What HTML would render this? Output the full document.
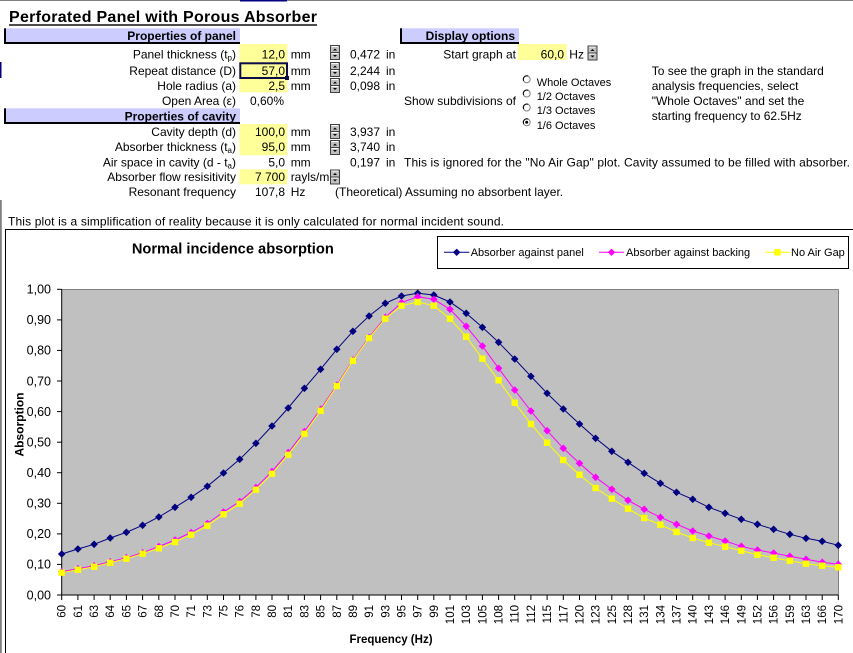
<!DOCTYPE html>
<html><head><meta charset="utf-8"><style>
html,body{margin:0;padding:0;background:#fff;width:853px;height:653px;overflow:hidden}
svg{display:block}
text{font-family:"Liberation Sans",Arial,sans-serif;fill:#000}
</style></head><body>
<svg width="853" height="653" viewBox="0 0 853 653" xmlns="http://www.w3.org/2000/svg">
<defs>
<g id="spin">
<rect x="0.5" y="0.5" width="9" height="14" fill="#c0c0c0" stroke="#404040"/>
<line x1="1" y1="7.5" x2="9" y2="7.5" stroke="#404040"/>
<line x1="1.5" y1="1.5" x2="8" y2="1.5" stroke="#fff"/>
<line x1="1.5" y1="8.5" x2="8" y2="8.5" stroke="#fff"/>
<polygon points="3,5.5 5,3.5 7,5.5" fill="#000"/>
<polygon points="3,10 5,12 7,10" fill="#000"/>
</g>
<marker id="mN" markerUnits="userSpaceOnUse" markerWidth="10" markerHeight="10" refX="5" refY="5" overflow="visible"><path d="M5,1.2 L8.8,5 L5,8.8 L1.2,5 Z" fill="#000080"/></marker>
<marker id="mM" markerUnits="userSpaceOnUse" markerWidth="10" markerHeight="10" refX="5" refY="5" overflow="visible"><path d="M5,1.2 L8.8,5 L5,8.8 L1.2,5 Z" fill="#ff00ff"/></marker>
<marker id="mY" markerUnits="userSpaceOnUse" markerWidth="10" markerHeight="10" refX="5" refY="5" overflow="visible"><rect x="1.8" y="1.8" width="6.4" height="6.4" fill="#ffff00"/></marker>
</defs>

<!-- sheet chrome -->
<line x1="0" y1="0.5" x2="853" y2="0.5" stroke="#808080"/>
<rect x="240" y="0" width="47" height="1.5" fill="#000080"/>
<rect x="0" y="62" width="1.5" height="16" fill="#000080"/>
<rect x="0" y="200" width="1.8" height="453" fill="#808080"/>

<!-- title -->
<text x="9" y="22" font-size="16" font-weight="bold" textLength="308">Perforated Panel with Porous Absorber</text>
<rect x="9" y="24.3" width="308" height="1.4" fill="#000"/>

<!-- headers -->
<rect x="4.5" y="28.3" width="235.5" height="15.7" fill="#ccccff"/>
<rect x="4" y="28.3" width="2" height="15.7" fill="#000"/>
<rect x="4" y="42" width="236" height="2" fill="#000"/>
<text x="236" y="40" font-size="12" font-weight="bold" text-anchor="end">Properties of panel</text>

<rect x="4.5" y="108.3" width="235.5" height="15.7" fill="#ccccff"/>
<rect x="4" y="108.3" width="2" height="15.7" fill="#000"/>
<rect x="4" y="122" width="236" height="2" fill="#000"/>
<text x="236" y="120.5" font-size="12" font-weight="bold" text-anchor="end">Properties of cavity</text>

<rect x="400" y="28.3" width="119" height="15.7" fill="#ccccff"/>
<rect x="400" y="28.3" width="2" height="15.7" fill="#000"/>
<rect x="400" y="42" width="119" height="2" fill="#000"/>
<text x="515" y="40" font-size="12" font-weight="bold" text-anchor="end">Display options</text>

<!-- yellow input cells -->
<rect x="239.3" y="44" width="48" height="48.3" fill="#ffff99"/>
<rect x="239.3" y="124" width="48" height="31.3" fill="#ffff99"/>
<rect x="239.3" y="169.3" width="48" height="15" fill="#ffff99"/>
<rect x="517.7" y="44" width="49" height="16" fill="#ffff99"/>
<!-- selected cell -->
<rect x="240.3" y="63.3" width="46.7" height="14.7" fill="none" stroke="#0c0c48" stroke-width="2"/>
<rect x="285" y="76" width="4" height="4" fill="#0c0c48"/>

<g font-size="12">
<!-- labels -->
<g text-anchor="end">
<text x="236" y="58.5">Panel thickness (t<tspan font-size="8" dy="2">p</tspan><tspan dy="-2">)</tspan></text>
<text x="236" y="75">Repeat distance (D)</text>
<text x="236" y="90">Hole radius (a)</text>
<text x="236" y="105">Open Area (ε)</text>
<text x="236" y="136">Cavity depth (d)</text>
<text x="236" y="151">Absorber thickness (t<tspan font-size="8" dy="2">a</tspan><tspan dy="-2">)</tspan></text>
<text x="236" y="166.5">Air space in cavity (d - t<tspan font-size="8" dy="2">a</tspan><tspan dy="-2">)</tspan></text>
<text x="236" y="181">Absorber flow resisitivity</text>
<text x="236" y="196">Resonant frequency</text>
<!-- values -->
<text x="285" y="58.5">12,0</text>
<text x="285" y="75">57,0</text>
<text x="285" y="90">2,5</text>
<text x="284" y="105">0,60%</text>
<text x="285" y="136">100,0</text>
<text x="285" y="151">95,0</text>
<text x="285" y="166.5">5,0</text>
<text x="285" y="181">7 700</text>
<text x="285" y="196">107,8</text>
<!-- inches -->
<text x="380" y="58.5">0,472</text>
<text x="380" y="75">2,244</text>
<text x="380" y="90">0,098</text>
<text x="380" y="136">3,937</text>
<text x="380" y="151">3,740</text>
<text x="380" y="166.5">0,197</text>
<text x="516" y="58.5">Start graph at</text>
<text x="564" y="58.5">60,0</text>
<text x="516" y="105">Show subdivisions of</text>
</g>
<!-- units -->
<text x="290.7" y="58.5">mm</text>
<text x="290.7" y="75">mm</text>
<text x="290.7" y="90">mm</text>
<text x="290.7" y="136">mm</text>
<text x="290.7" y="151">mm</text>
<text x="290.7" y="166.5">mm</text>
<text x="290.7" y="181">rayls/m</text>
<text x="290.7" y="196">Hz</text>
<text x="386" y="58.5">in</text>
<text x="386" y="75">in</text>
<text x="386" y="90">in</text>
<text x="386" y="136">in</text>
<text x="386" y="151">in</text>
<text x="386" y="166.5">in</text>
<text x="569.3" y="58.5">Hz</text>
<text x="335" y="196">(Theoretical) Assuming no absorbent layer.</text>
<text x="404" y="166.5" textLength="446">This is ignored for the "No Air Gap" plot.  Cavity assumed to be filled with absorber.</text>
<text x="651.7" y="75">To see the graph in the standard</text>
<text x="651.7" y="90">analysis frequencies, select</text>
<text x="651.7" y="105">"Whole Octaves" and set the</text>
<text x="651.7" y="120">starting frequency to 62.5Hz</text>
<text x="8" y="225.5" textLength="496">This plot is a simplification of reality because it is only calculated for normal incident sound.</text>
</g>

<!-- spinners -->
<use href="#spin" x="330" y="45"/>
<use href="#spin" x="330" y="62"/>
<use href="#spin" x="330" y="78"/>
<use href="#spin" x="330" y="124"/>
<use href="#spin" x="330" y="140"/>
<use href="#spin" x="330" y="169.5"/>
<use href="#spin" x="587.5" y="45.5"/>

<!-- radio buttons -->
<g fill="#fff" stroke="#808080" stroke-width="1">
<circle cx="526.7" cy="79.3" r="3.5"/>
<circle cx="526.7" cy="93.5" r="3.5"/>
<circle cx="526.7" cy="107.5" r="3.5"/>
<circle cx="526.7" cy="122.3" r="3.5"/>
</g>
<g fill="none" stroke="#000" stroke-width="1">
<path d="M523.7,80.8 A3.5,3.5 0 0 1 528.2,76.1"/>
<path d="M523.7,95 A3.5,3.5 0 0 1 528.2,90.3"/>
<path d="M523.7,109 A3.5,3.5 0 0 1 528.2,104.3"/>
<path d="M523.7,123.8 A3.5,3.5 0 0 1 528.2,119.1"/>
</g>
<circle cx="526.7" cy="122.3" r="1.5" fill="#000"/>
<g font-size="11">
<text x="536.7" y="86">Whole Octaves</text>
<text x="536.7" y="100">1/2 Octaves</text>
<text x="536.7" y="114">1/3 Octaves</text>
<text x="536.7" y="129">1/6 Octaves</text>
</g>

<!-- chart frame -->
<line x1="5" y1="229.5" x2="853" y2="229.5" stroke="#000"/>
<line x1="5.5" y1="229.5" x2="5.5" y2="653" stroke="#000"/>

<text x="232.8" y="253.3" font-size="14.67" font-weight="bold" text-anchor="middle">Normal incidence absorption</text>

<!-- legend -->
<rect x="437.5" y="236.5" width="411" height="32" fill="#fff" stroke="#000"/>
<line x1="444" y1="252.3" x2="469.3" y2="252.3" stroke="#000080"/>
<path d="M456.7,248.6 L460.4,252.3 L456.7,256 L453,252.3 Z" fill="#000080"/>
<line x1="599" y1="252.3" x2="624" y2="252.3" stroke="#ff00ff"/>
<path d="M611.5,248.6 L615.2,252.3 L611.5,256 L607.8,252.3 Z" fill="#ff00ff"/>
<line x1="765" y1="252.3" x2="790" y2="252.3" stroke="#ffff00"/>
<rect x="774.3" y="249.1" width="6.4" height="6.4" fill="#ffff00"/>
<g font-size="11">
<text x="470.7" y="256">Absorber against panel</text>
<text x="626" y="256">Absorber against backing</text>
<text x="791" y="256">No Air Gap</text>
</g>

<!-- plot area -->
<rect x="61.7" y="289.3" width="776.6" height="305.7" fill="#c0c0c0"/>
<line x1="61.7" y1="289.5" x2="838.3" y2="289.5" stroke="#808080"/>
<line x1="838.5" y1="289.3" x2="838.5" y2="595" stroke="#808080"/>

<!-- y axis -->
<line x1="61.7" y1="289.3" x2="61.7" y2="595.5" stroke="#000"/>
<g stroke="#000">
<line x1="57" y1="289.3" x2="61.7" y2="289.3"/>
<line x1="57" y1="319.9" x2="61.7" y2="319.9"/>
<line x1="57" y1="350.4" x2="61.7" y2="350.4"/>
<line x1="57" y1="381" x2="61.7" y2="381"/>
<line x1="57" y1="411.6" x2="61.7" y2="411.6"/>
<line x1="57" y1="442.2" x2="61.7" y2="442.2"/>
<line x1="57" y1="472.7" x2="61.7" y2="472.7"/>
<line x1="57" y1="503.3" x2="61.7" y2="503.3"/>
<line x1="57" y1="533.9" x2="61.7" y2="533.9"/>
<line x1="57" y1="564.4" x2="61.7" y2="564.4"/>
<line x1="57" y1="595" x2="61.7" y2="595"/>
</g>
<g font-size="12.5" text-anchor="end">
<text x="51" y="293.6">1,00</text>
<text x="51" y="324.2">0,90</text>
<text x="51" y="354.7">0,80</text>
<text x="51" y="385.3">0,70</text>
<text x="51" y="415.9">0,60</text>
<text x="51" y="446.5">0,50</text>
<text x="51" y="477">0,40</text>
<text x="51" y="507.6">0,30</text>
<text x="51" y="538.2">0,20</text>
<text x="51" y="568.7">0,10</text>
<text x="51" y="599.3">0,00</text>
</g>
<text transform="translate(23.5,424.5) rotate(-90)" font-size="12" font-weight="bold" text-anchor="middle">Absorption</text>

<!-- x axis -->
<line x1="61.2" y1="595" x2="838.3" y2="595" stroke="#000"/>
<path stroke="#000" d="M61.7,595v5M77.9,595v5M94.1,595v5M110.2,595v5M126.4,595v5M142.6,595v5M158.8,595v5M175,595v5M191.1,595v5M207.3,595v5M223.5,595v5M239.7,595v5M255.9,595v5M272,595v5M288.2,595v5M304.4,595v5M320.6,595v5M336.8,595v5M352.9,595v5M369.1,595v5M385.3,595v5M401.5,595v5M417.7,595v5M433.8,595v5M450,595v5M466.2,595v5M482.4,595v5M498.6,595v5M514.7,595v5M530.9,595v5M547.1,595v5M563.3,595v5M579.5,595v5M595.6,595v5M611.8,595v5M628,595v5M644.2,595v5M660.4,595v5M676.5,595v5M692.7,595v5M708.9,595v5M725.1,595v5M741.3,595v5M757.4,595v5M773.6,595v5M789.8,595v5M806,595v5M822.2,595v5M838.3,595v5"/>
<g font-size="11.5" text-anchor="end">
<text transform="translate(65.7,605) rotate(-90)">60</text>
<text transform="translate(81.9,605) rotate(-90)">61</text>
<text transform="translate(98.1,605) rotate(-90)">63</text>
<text transform="translate(114.2,605) rotate(-90)">64</text>
<text transform="translate(130.4,605) rotate(-90)">65</text>
<text transform="translate(146.6,605) rotate(-90)">67</text>
<text transform="translate(162.8,605) rotate(-90)">68</text>
<text transform="translate(179,605) rotate(-90)">70</text>
<text transform="translate(195.1,605) rotate(-90)">71</text>
<text transform="translate(211.3,605) rotate(-90)">73</text>
<text transform="translate(227.5,605) rotate(-90)">75</text>
<text transform="translate(243.7,605) rotate(-90)">76</text>
<text transform="translate(259.9,605) rotate(-90)">78</text>
<text transform="translate(276,605) rotate(-90)">80</text>
<text transform="translate(292.2,605) rotate(-90)">81</text>
<text transform="translate(308.4,605) rotate(-90)">83</text>
<text transform="translate(324.6,605) rotate(-90)">85</text>
<text transform="translate(340.8,605) rotate(-90)">87</text>
<text transform="translate(356.9,605) rotate(-90)">89</text>
<text transform="translate(373.1,605) rotate(-90)">91</text>
<text transform="translate(389.3,605) rotate(-90)">93</text>
<text transform="translate(405.5,605) rotate(-90)">95</text>
<text transform="translate(421.7,605) rotate(-90)">97</text>
<text transform="translate(437.8,605) rotate(-90)">99</text>
<text transform="translate(454,605) rotate(-90)">101</text>
<text transform="translate(470.2,605) rotate(-90)">103</text>
<text transform="translate(486.4,605) rotate(-90)">105</text>
<text transform="translate(502.6,605) rotate(-90)">108</text>
<text transform="translate(518.7,605) rotate(-90)">110</text>
<text transform="translate(534.9,605) rotate(-90)">112</text>
<text transform="translate(551.1,605) rotate(-90)">115</text>
<text transform="translate(567.3,605) rotate(-90)">117</text>
<text transform="translate(583.5,605) rotate(-90)">120</text>
<text transform="translate(599.6,605) rotate(-90)">123</text>
<text transform="translate(615.8,605) rotate(-90)">125</text>
<text transform="translate(632,605) rotate(-90)">128</text>
<text transform="translate(648.2,605) rotate(-90)">131</text>
<text transform="translate(664.4,605) rotate(-90)">134</text>
<text transform="translate(680.5,605) rotate(-90)">137</text>
<text transform="translate(696.7,605) rotate(-90)">140</text>
<text transform="translate(712.9,605) rotate(-90)">143</text>
<text transform="translate(729.1,605) rotate(-90)">146</text>
<text transform="translate(745.3,605) rotate(-90)">149</text>
<text transform="translate(761.4,605) rotate(-90)">152</text>
<text transform="translate(777.6,605) rotate(-90)">156</text>
<text transform="translate(793.8,605) rotate(-90)">159</text>
<text transform="translate(810,605) rotate(-90)">163</text>
<text transform="translate(826.2,605) rotate(-90)">166</text>
<text transform="translate(842.3,605) rotate(-90)">170</text>
</g>
<text x="391" y="643" font-size="11.5" font-weight="bold" text-anchor="middle">Frequency (Hz)</text>

<!-- series -->
<polyline fill="none" stroke="#000080" stroke-width="1" marker-start="url(#mN)" marker-mid="url(#mN)" marker-end="url(#mN)" points="61.7,554 77.9,549 94.1,544.3 110.2,538 126.4,532.3 142.6,525.3 158.8,517 175,507.3 191.1,497.3 207.3,486.3 223.5,473 239.7,459.3 255.9,443.3 272,426 288.2,408 304.4,388.3 320.6,369.3 336.8,349.3 352.9,331.3 369.1,316 385.3,303.3 401.5,296 417.7,293.3 433.8,295 450,302 466.2,313.3 482.4,327.3 498.6,342.3 514.7,359 530.9,376.3 547.1,393.3 563.3,409 579.5,424 595.6,438.3 611.8,451.3 628,462.3 644.2,473.3 660.4,483.3 676.5,492.3 692.7,499.3 708.9,507.3 725.1,513.3 741.3,519.3 757.4,524.3 773.6,529.3 789.8,534.3 806,538.3 822.2,541.3 838.3,545.3"/>
<polyline fill="none" stroke="#ff00ff" stroke-width="1" marker-start="url(#mM)" marker-mid="url(#mM)" marker-end="url(#mM)" points="61.7,571.7 77.9,568.7 94.1,565.7 110.2,561.7 126.4,557.7 142.6,552.7 158.8,546.5 175,540 191.1,532.5 207.3,523.5 223.5,512 239.7,501.5 255.9,487.5 272,471.5 288.2,452.5 304.4,431.5 320.6,409.3 336.8,385 352.9,360 369.1,337.3 385.3,317.3 401.5,302.7 417.7,296.7 433.8,299.3 450,309.3 466.2,326.3 482.4,346 498.6,368.3 514.7,390 530.9,411 547.1,430.7 563.3,448.3 579.5,463.3 595.6,477.3 611.8,489.3 628,500.3 644.2,509.3 660.4,517.3 676.5,524.3 692.7,531 708.9,536 725.1,541 741.3,546.3 757.4,550 773.6,553 789.8,556.3 806,559.3 822.2,562.3 838.3,564.3"/>
<polyline fill="none" stroke="#ffff00" stroke-width="1" marker-start="url(#mY)" marker-mid="url(#mY)" marker-end="url(#mY)" points="61.7,572.7 77.9,569.7 94.1,566.7 110.2,562.7 126.4,558.7 142.6,553.7 158.8,548.3 175,542 191.1,534.7 207.3,525.7 223.5,514.3 239.7,503.7 255.9,489.7 272,473.7 288.2,454.7 304.4,433.7 320.6,410.7 336.8,386 352.9,360.7 369.1,338 385.3,318.7 401.5,305.7 417.7,302 433.8,305.7 450,318.7 466.2,336.7 482.4,358.7 498.6,380.3 514.7,402.7 530.9,424 547.1,442.7 563.3,460 579.5,474.7 595.6,488 611.8,498.7 628,508.7 644.2,518 660.4,524.7 676.5,532 692.7,538 708.9,542.7 725.1,546.7 741.3,550.7 757.4,554.7 773.6,557.7 789.8,560.7 806,563.7 822.2,565.7 838.3,567.3"/>
</svg>
</body></html>
